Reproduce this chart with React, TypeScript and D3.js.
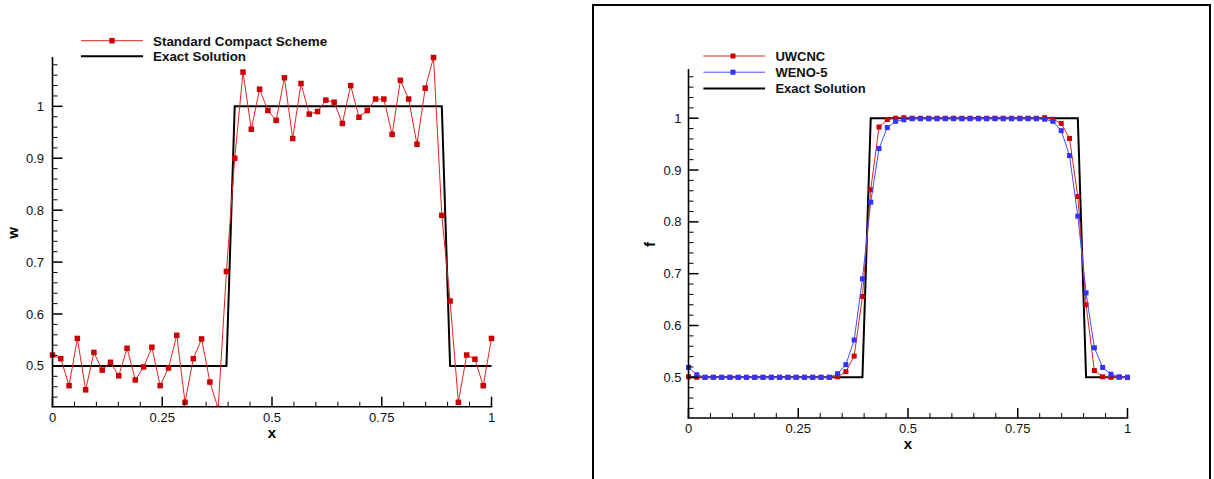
import React from 'react';
import * as d3 from 'd3';

// ---------- data ----------
const N = 54; // grid points, x_i = i/(N-1)
const xMajorTicks = [0, 0.25, 0.5, 0.75, 1];
const xMajorLabels = ['0', '0.25', '0.5', '0.75', '1'];
const yMajorTicks = [0.5, 0.6, 0.7, 0.8, 0.9, 1];
const yMajorLabels = ['0.5', '0.6', '0.7', '0.8', '0.9', '1'];

const compactValues = [
  0.521, 0.514, 0.462, 0.553, 0.454, 0.526, 0.492, 0.507, 0.481, 0.534,
  0.473, 0.498, 0.536, 0.462, 0.496, 0.559, 0.430, 0.514, 0.552, 0.469,
  0.418, 0.682, 0.900, 1.066, 0.956, 1.033, 0.992, 0.973, 1.055, 0.938,
  1.044, 0.985, 0.990, 1.012, 1.008, 0.967, 1.040, 0.979, 0.992, 1.014,
  1.014, 0.946, 1.050, 1.014, 0.927, 1.035, 1.094, 0.790, 0.625, 0.430,
  0.521, 0.513, 0.462, 0.553,
];

const exactValues = [
  0.5, 0.5, 0.5, 0.5, 0.5, 0.5, 0.5, 0.5, 0.5, 0.5,
  0.5, 0.5, 0.5, 0.5, 0.5, 0.5, 0.5, 0.5, 0.5, 0.5,
  0.5, 0.5, 1, 1, 1, 1, 1, 1, 1, 1,
  1, 1, 1, 1, 1, 1, 1, 1, 1, 1,
  1, 1, 1, 1, 1, 1, 1, 1, 0.5, 0.5,
  0.5, 0.5, 0.5, 0.5,
];

const uwcncValues = [
  0.501, 0.5, 0.5, 0.5, 0.5, 0.5, 0.5, 0.5, 0.5, 0.5,
  0.5, 0.5, 0.5, 0.5, 0.5, 0.5, 0.5, 0.5, 0.501, 0.511,
  0.541, 0.656, 0.862, 0.983, 0.9975, 1.0, 1.001, 1.0, 1.0, 1.0,
  1.0, 1.0, 1.0, 1.0, 1.0, 1.0, 1.0, 1.0, 1.0, 1.0,
  1.0, 1.0, 1.0, 1.001, 0.998, 0.990, 0.961, 0.849, 0.640, 0.513,
  0.501, 0.5, 0.5, 0.5,
];

const weno5Values = [
  0.519, 0.505, 0.5, 0.5, 0.5, 0.5, 0.5, 0.5, 0.5, 0.5,
  0.5, 0.5, 0.5, 0.5, 0.5, 0.5, 0.5, 0.5, 0.507, 0.5245,
  0.572, 0.690, 0.838, 0.9415, 0.982, 0.994, 0.997, 0.999, 0.999, 0.999,
  0.999, 0.999, 0.999, 0.999, 0.999, 0.999, 0.999, 0.999, 0.999, 0.999,
  0.999, 0.999, 0.999, 0.998, 0.994, 0.976, 0.928, 0.811, 0.663, 0.557,
  0.519, 0.506, 0.501, 0.5,
];

// ---------- styling ----------
const FONT = "'Liberation Sans', Arial, Helvetica, sans-serif";
const RED_LINE = '#e02424';
const RED_MARK = '#cc0000';
const BLUE_LINE = '#4a4aff';
const BLUE_MARK = '#3333ff';

type Series = {
  name: string;
  values: number[];
  line: string;
  mark?: string;
  width: number;
};

type PanelProps = {
  id: string;
  left: number;
  right: number;
  top: number;
  bottom: number;
  yTitle: string;
  yTitleX: number;
  labelGap: number;
  markerSize: number;
  drawOrder: Series[];
  legendOrder: Series[];
  legend: { x1: number; x2: number; xm: number; xt: number; y0: number; dy: number; fs: number };
};

function Panel(p: PanelProps) {
  const x = d3.scaleLinear().domain([0, 1]).range([p.left, p.right]);
  const y = d3.scaleLinear().domain([0.4215, 1.095]).range([p.bottom, p.top]);
  const xs = d3.range(N).map((i) => i / (N - 1));
  const line = d3
    .line<number>()
    .x((_, i) => x(xs[i]))
    .y((v) => y(v));
  const xMinor = d3.range(0, 1.0001, 0.05).filter((v) => !xMajorTicks.some((m) => Math.abs(m - v) < 1e-6));
  const yMinor = d3
    .range(0.42, 1.0951, 0.02)
    .filter((v) => y(v) <= p.bottom - 0.5 && y(v) >= p.top)
    .filter((v) => !yMajorTicks.some((m) => Math.abs(m - v) < 1e-6));
  const ms = p.markerSize;
  return (
    <g>
      <defs>
        <clipPath id={p.id + '-clip'}>
          <rect x={p.left - 10} y={p.top - 10} width={p.right - p.left + 20} height={p.bottom - p.top + 10} />
        </clipPath>
      </defs>
      <g clipPath={`url(#${p.id}-clip)`}>
        {p.drawOrder.map((s) => (
          <g key={s.name}>
            <path d={line(s.values) || ''} fill="none" stroke={s.line} strokeWidth={s.width} strokeLinejoin="miter" />
            {s.mark &&
              s.values.map((v, i) => (
                <rect key={i} x={x(xs[i]) - ms / 2} y={y(v) - ms / 2} width={ms} height={ms} fill={s.mark} />
              ))}
          </g>
        ))}
      </g>
      {/* axes */}
      <line x1={p.left} x2={p.left} y1={p.top} y2={p.bottom + 0.75} stroke="#000" strokeWidth={1.6} />
      <line x1={p.left - 0.75} x2={p.right + 0.75} y1={p.bottom} y2={p.bottom} stroke="#000" strokeWidth={1.6} />
      {xMajorTicks.map((t, i) => (
        <g key={'xt' + i}>
          <line x1={x(t)} x2={x(t)} y1={p.bottom} y2={p.bottom - 10} stroke="#000" strokeWidth={1.5} />
          <text x={x(t)} y={p.bottom + 15} textAnchor="middle" fontSize={13} fontFamily={FONT} fill="#111">
            {xMajorLabels[i]}
          </text>
        </g>
      ))}
      {xMinor.map((t, i) => (
        <line key={'xm' + i} x1={x(t)} x2={x(t)} y1={p.bottom} y2={p.bottom - 5} stroke="#000" strokeWidth={1} />
      ))}
      {yMajorTicks.map((t, i) => (
        <g key={'yt' + i}>
          <line x1={p.left} x2={p.left + 10} y1={y(t)} y2={y(t)} stroke="#000" strokeWidth={1.5} />
          <text x={p.left - p.labelGap} y={y(t) + 4.5} textAnchor="end" fontSize={13} fontFamily={FONT} fill="#111">
            {yMajorLabels[i]}
          </text>
        </g>
      ))}
      {yMinor.map((t, i) => (
        <line key={'ym' + i} x1={p.left} x2={p.left + 5} y1={y(t)} y2={y(t)} stroke="#000" strokeWidth={1} />
      ))}
      <text
        x={(p.left + p.right) / 2}
        y={p.bottom + 31}
        textAnchor="middle"
        fontSize={15}
        fontWeight="bold"
        fontFamily={FONT}
        fill="#000"
      >
        x
      </text>
      <text
        transform={`translate(${p.yTitleX},${(p.top + p.bottom) / 2 + 1}) rotate(-90)`}
        textAnchor="middle"
        fontSize={15}
        fontWeight="bold"
        fontFamily={FONT}
        fill="#000"
      >
        {p.yTitle}
      </text>
      {/* legend */}
      {p.legendOrder.map((s, i) => {
        const ly = p.legend.y0 + i * p.legend.dy;
        return (
          <g key={'lg' + i}>
            <line x1={p.legend.x1} x2={p.legend.x2} y1={ly} y2={ly} stroke={s.line} strokeWidth={s.width} />
            {s.mark && <rect x={p.legend.xm - ms / 2} y={ly - ms / 2} width={ms} height={ms} fill={s.mark} />}
            <text
              x={p.legend.xt}
              y={ly + p.legend.fs * 0.36}
              fontSize={p.legend.fs}
              fontWeight="bold"
              fontFamily={FONT}
              fill="#111"
            >
              {s.name}
            </text>
          </g>
        );
      })}
    </g>
  );
}

export default function App() {
  const compact: Series = { name: 'Standard Compact Scheme', values: compactValues, line: RED_LINE, mark: RED_MARK, width: 1 };
  const exact: Series = { name: 'Exact Solution', values: exactValues, line: '#000', width: 2 };
  const uwcnc: Series = { name: 'UWCNC', values: uwcncValues, line: RED_LINE, mark: RED_MARK, width: 1 };
  const weno: Series = { name: 'WENO-5', values: weno5Values, line: BLUE_LINE, mark: BLUE_MARK, width: 1 };
  return (
    <svg
      width={1214}
      height={479}
      style={{ position: 'absolute', left: 0, top: 0, background: '#fff' }}
      xmlns="http://www.w3.org/2000/svg"
    >
      <rect x={0} y={0} width={1214} height={479} fill="#fff" />
      <Panel
        id="left"
        left={52.5}
        right={491.5}
        top={57}
        bottom={406.7}
        yTitle="w"
        yTitleX={18}
        labelGap={8.5}
        markerSize={5.5}
        drawOrder={[exact, compact]}
        legendOrder={[compact, exact]}
        legend={{ x1: 81, x2: 143, xm: 112, xt: 153, y0: 40.7, dy: 15.5, fs: 13.4 }}
      />
      <rect x={593} y={5} width={617} height={490} fill="none" stroke="#000" strokeWidth={2} />
      <Panel
        id="right"
        left={688.5}
        right={1127.5}
        top={69}
        bottom={418}
        yTitle="f"
        yTitleX={655}
        labelGap={7}
        markerSize={5}
        drawOrder={[exact, uwcnc, weno]}
        legendOrder={[uwcnc, weno, exact]}
        legend={{ x1: 703.4, x2: 765, xm: 733, xt: 775.4, y0: 56, dy: 16.2, fs: 13 }}
      />
    </svg>
  );
}
